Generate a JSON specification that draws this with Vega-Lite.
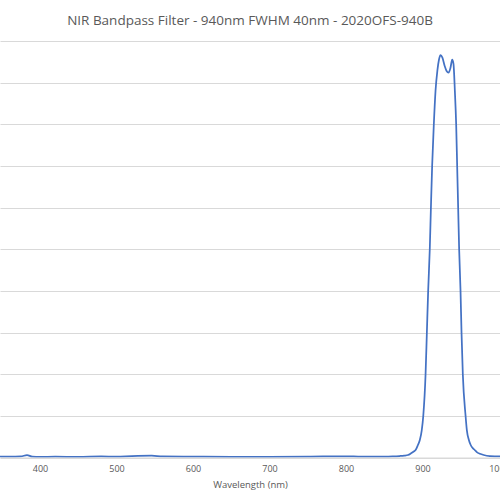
{
  "$schema": "https://vega.github.io/schema/vega-lite/v6.json",
  "description": "NIR Bandpass Filter transmission curve",
  "autosize": "none",
  "width": 500,
  "height": 416.5,
  "padding": {"top": 41, "left": 0, "right": 0, "bottom": 42.5},
  "background": "white",
  "title": {
    "text": "NIR Bandpass Filter - 940nm FWHM 40nm - 2020OFS-940B",
    "font": "Open Sans",
    "fontSize": 13.5,
    "fontWeight": "normal",
    "color": "#595959",
    "anchor": "middle",
    "offset": 14
  },
  "config": {
    "view": {"stroke": null},
    "axis": {"labelFont": "Open Sans", "titleFont": "Open Sans", "labelColor": "#595959", "titleColor": "#595959"}
  },
  "data": {
    "values": [
      {"wl": 340, "t": 0.2}, {"wl": 360, "t": 0.2}, {"wl": 375, "t": 0.25},
      {"wl": 383, "t": 0.6}, {"wl": 390, "t": 0.2}, {"wl": 400, "t": 0.15},
      {"wl": 420, "t": 0.2}, {"wl": 450, "t": 0.15}, {"wl": 480, "t": 0.25},
      {"wl": 500, "t": 0.2}, {"wl": 520, "t": 0.35}, {"wl": 546, "t": 0.45},
      {"wl": 560, "t": 0.25}, {"wl": 600, "t": 0.2}, {"wl": 650, "t": 0.15},
      {"wl": 700, "t": 0.15}, {"wl": 750, "t": 0.2}, {"wl": 800, "t": 0.3},
      {"wl": 820, "t": 0.2}, {"wl": 850, "t": 0.2}, {"wl": 861, "t": 0.25},
      {"wl": 870, "t": 0.35}, {"wl": 876, "t": 0.45}, {"wl": 881, "t": 0.6},
      {"wl": 885, "t": 1.0}, {"wl": 889, "t": 1.5}, {"wl": 891, "t": 1.8},
      {"wl": 894, "t": 3.0}, {"wl": 896.5, "t": 4.2}, {"wl": 899, "t": 6.5},
      {"wl": 901, "t": 10}, {"wl": 904, "t": 20}, {"wl": 905.7, "t": 30},
      {"wl": 907.4, "t": 40}, {"wl": 909.5, "t": 50}, {"wl": 911, "t": 60},
      {"wl": 912.6, "t": 70}, {"wl": 914.8, "t": 80}, {"wl": 917, "t": 88},
      {"wl": 919.5, "t": 93}, {"wl": 921.5, "t": 95.5}, {"wl": 923.6, "t": 96.6},
      {"wl": 926, "t": 96}, {"wl": 929, "t": 94}, {"wl": 931.5, "t": 92.8},
      {"wl": 934, "t": 92.4}, {"wl": 936.5, "t": 93.5}, {"wl": 938.8, "t": 95.5},
      {"wl": 940.5, "t": 94.5}, {"wl": 942.3, "t": 88}, {"wl": 944, "t": 80},
      {"wl": 945.3, "t": 70}, {"wl": 946.6, "t": 60}, {"wl": 947.9, "t": 50},
      {"wl": 949.7, "t": 40}, {"wl": 951, "t": 30}, {"wl": 952.7, "t": 20},
      {"wl": 956.3, "t": 10}, {"wl": 958, "t": 6.5}, {"wl": 960.6, "t": 4.2},
      {"wl": 963, "t": 3}, {"wl": 966, "t": 2.2}, {"wl": 968.4, "t": 1.8},
      {"wl": 971, "t": 1.3}, {"wl": 975, "t": 0.9}, {"wl": 980, "t": 0.6},
      {"wl": 988, "t": 0.35}, {"wl": 1001, "t": 0.25}, {"wl": 1010, "t": 0.25}
    ]
  },
  "mark": {"type": "line", "color": "#4472C4", "strokeWidth": 1.75, "interpolate": "monotone", "clip": true},
  "encoding": {
    "x": {
      "field": "wl",
      "type": "quantitative",
      "title": "Wavelength (nm)",
      "scale": {"domain": [347.7, 1001.3], "nice": false, "zero": false},
      "axis": {
        "values": [400, 500, 600, 700, 800, 900, 1000],
        "format": "d",
        "grid": false,
        "ticks": false,
        "domainColor": "#d9d9d9",
        "labelFlush": false,
        "labelFontSize": 9,
        "labelPadding": 7,
        "titleFontSize": 9.5,
        "titleFontWeight": "normal",
        "titlePadding": 6
      }
    },
    "y": {
      "field": "t",
      "type": "quantitative",
      "scale": {"domain": [0, 100], "nice": false},
      "axis": {
        "values": [0, 10, 20, 30, 40, 50, 60, 70, 80, 90, 100],
        "labels": false,
        "ticks": false,
        "domain": false,
        "title": null,
        "gridColor": "#d9d9d9"
      }
    }
  }
}
